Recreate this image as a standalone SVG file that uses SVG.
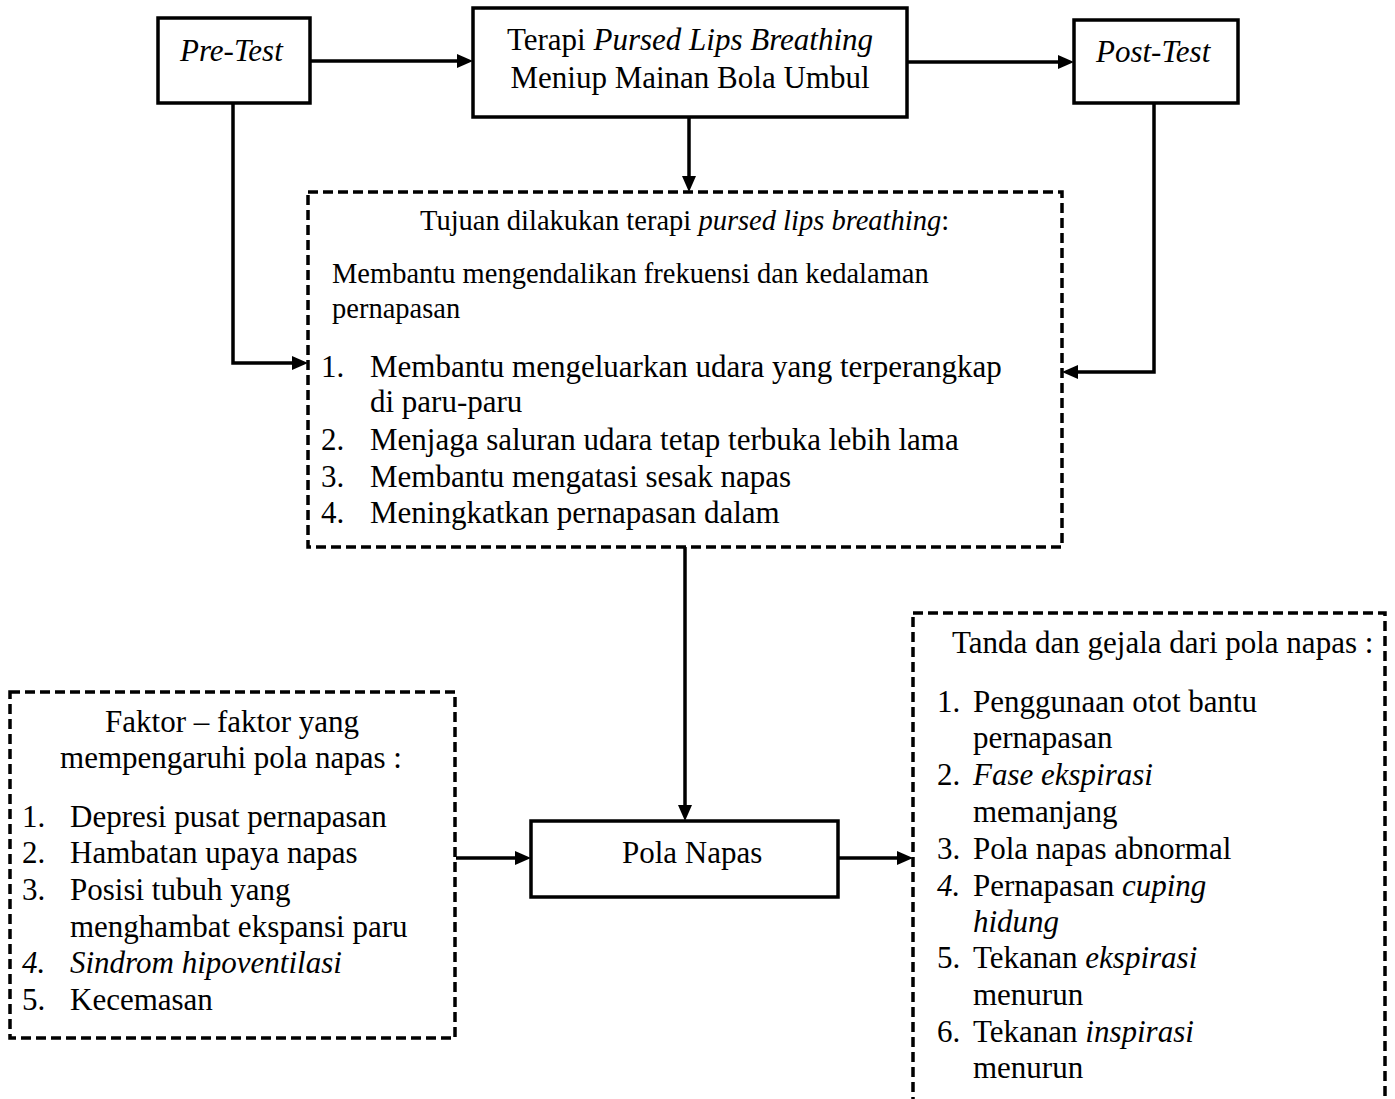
<svg xmlns="http://www.w3.org/2000/svg" width="1395" height="1099" viewBox="0 0 1395 1099">
<style>
text{font-family:"Liberation Serif","Times New Roman",serif;fill:#000}
.t31{font-size:31px}
.t28{font-size:28.5px}
.i{font-style:italic}
.box{fill:#fff;stroke:#000;stroke-width:3.5}
.dash{fill:#fff;stroke:#000;stroke-width:3.5;stroke-dasharray:10 5}
.conn{fill:none;stroke:#000;stroke-width:3.5}
</style>
<defs>
<marker id="ah" markerUnits="userSpaceOnUse" markerWidth="16" markerHeight="14" refX="6" refY="7" orient="auto">
<path d="M0,0 L16,7 L0,14 z" fill="#000"/>
</marker>
</defs>
<rect width="1395" height="1099" fill="#fff"/>

<g id="connectors">
<line class="conn" x1="310" y1="61" x2="463" y2="61" marker-end="url(#ah)"/>
<line class="conn" x1="907" y1="62" x2="1064" y2="62" marker-end="url(#ah)"/>
<line class="conn" x1="689" y1="117" x2="689" y2="182" marker-end="url(#ah)"/>
<polyline class="conn" points="233,103 233,363 298,363" marker-end="url(#ah)"/>
<polyline class="conn" points="1154,103 1154,372 1072,372" marker-end="url(#ah)"/>
<line class="conn" x1="685" y1="547" x2="685" y2="811" marker-end="url(#ah)"/>
<line class="conn" x1="456" y1="858" x2="521" y2="858" marker-end="url(#ah)"/>
<line class="conn" x1="838" y1="858" x2="903" y2="858" marker-end="url(#ah)"/>
</g>

<g id="pretest">
<rect class="box" x="158" y="18" width="152" height="85"/>
<text class="t31 i" x="180" y="61">Pre-Test</text>
</g>

<g id="terapi">
<rect class="box" x="473" y="8" width="434" height="109"/>
<text class="t31" x="690" y="50" text-anchor="middle">Terapi <tspan class="i">Pursed Lips Breathing</tspan></text>
<text class="t31" x="690" y="88" text-anchor="middle">Meniup Mainan Bola Umbul</text>
</g>

<g id="posttest">
<rect class="box" x="1074" y="20" width="164" height="83"/>
<text class="t31 i" x="1096" y="62">Post-Test</text>
</g>

<g id="tujuan">
<rect class="dash" x="308" y="192" width="754" height="355"/>
<text class="t28" x="420" y="230">Tujuan dilakukan terapi <tspan class="i">pursed lips breathing</tspan>:</text>
<text class="t28" x="332" y="283">Membantu mengendalikan frekuensi dan kedalaman</text>
<text class="t28" x="332" y="318">pernapasan</text>
<text class="t31" x="321" y="377">1.</text>
<text class="t31" x="370" y="377">Membantu mengeluarkan udara yang terperangkap</text>
<text class="t31" x="370" y="412">di paru-paru</text>
<text class="t31" x="321" y="450">2.</text>
<text class="t31" x="370" y="450">Menjaga saluran udara tetap terbuka lebih lama</text>
<text class="t31" x="321" y="487">3.</text>
<text class="t31" x="370" y="487">Membantu mengatasi sesak napas</text>
<text class="t31" x="321" y="523">4.</text>
<text class="t31" x="370" y="523">Meningkatkan pernapasan dalam</text>
</g>

<g id="faktor">
<rect class="dash" x="10" y="692" width="445" height="346"/>
<text class="t31" x="232" y="732" text-anchor="middle">Faktor – faktor yang</text>
<text class="t31" x="231" y="768" text-anchor="middle">mempengaruhi pola napas :</text>
<text class="t31" x="22" y="827">1.</text>
<text class="t31" x="70" y="827">Depresi pusat pernapasan</text>
<text class="t31" x="22" y="863">2.</text>
<text class="t31" x="70" y="863">Hambatan upaya napas</text>
<text class="t31" x="22" y="900">3.</text>
<text class="t31" x="70" y="900">Posisi tubuh yang</text>
<text class="t31" x="70" y="937">menghambat ekspansi paru</text>
<text class="t31 i" x="22" y="973">4.</text>
<text class="t31 i" x="70" y="973">Sindrom hipoventilasi</text>
<text class="t31" x="22" y="1010">5.</text>
<text class="t31" x="70" y="1010">Kecemasan</text>
</g>

<g id="polanapas">
<rect class="box" x="531" y="821" width="307" height="76"/>
<text class="t31" x="622" y="863">Pola Napas</text>
</g>

<g id="tanda">
<rect class="dash" x="913" y="613" width="472" height="510"/>
<text class="t31" x="952" y="653">Tanda dan gejala dari pola napas :</text>
<text class="t31" x="937" y="712">1.</text>
<text class="t31" x="973" y="712">Penggunaan otot bantu</text>
<text class="t31" x="973" y="748">pernapasan</text>
<text class="t31" x="937" y="785">2.</text>
<text class="t31 i" x="973" y="785">Fase ekspirasi</text>
<text class="t31" x="973" y="822">memanjang</text>
<text class="t31" x="937" y="859">3.</text>
<text class="t31" x="973" y="859">Pola napas abnormal</text>
<text class="t31 i" x="937" y="896">4.</text>
<text class="t31" x="973" y="896">Pernapasan <tspan class="i">cuping</tspan></text>
<text class="t31 i" x="973" y="932">hidung</text>
<text class="t31" x="937" y="968">5.</text>
<text class="t31" x="973" y="968">Tekanan <tspan class="i">ekspirasi</tspan></text>
<text class="t31" x="973" y="1005">menurun</text>
<text class="t31" x="937" y="1042">6.</text>
<text class="t31" x="973" y="1042">Tekanan <tspan class="i">inspirasi</tspan></text>
<text class="t31" x="973" y="1078">menurun</text>
</g>
</svg>
